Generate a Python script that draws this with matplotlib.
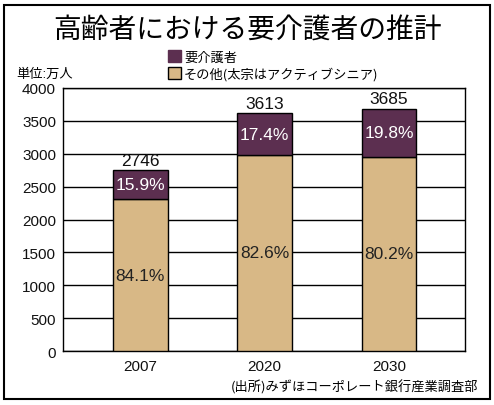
import matplotlib
matplotlib.use("Agg")
import matplotlib.pyplot as plt
from matplotlib.patches import Rectangle, Patch

plt.rcParams['font.family'] = ['Liberation Sans', 'Noto Sans CJK JP', 'DejaVu Sans']

years = ["2007", "2020", "2030"]
other = [2310, 2985, 2955]
care = [436, 628, 730]
totals = ["2746", "3613", "3685"]
care_pct = ["15.9%", "17.4%", "19.8%"]
other_pct = ["84.1%", "82.6%", "80.2%"]
yticks = [0, 500, 1000, 1500, 2000, 2500, 3000, 3500, 4000]

PURPLE = "#5c2f50"
TAN = "#d8b886"

W, H = 494, 406
fig = plt.figure(figsize=(W / 100, H / 100), dpi=100)
fig.patches.append(Rectangle((4 / W, 6 / H), 486 / W, 394 / H, transform=fig.transFigure,
                             fill=False, edgecolor="black", linewidth=1.5))

ax = fig.add_axes([63 / W, 1 - 352 / H, 402 / W, 263 / H])
x = list(range(len(years)))
ax.bar(x, other, width=0.44, color=TAN, edgecolor="black", linewidth=1, zorder=3)
ax.bar(x, care, width=0.44, bottom=other, color=PURPLE, edgecolor="black", linewidth=1, zorder=3)

for i in x:
    top = other[i] + care[i]
    ax.text(i, top + 40, totals[i], ha="center", va="bottom", fontsize=12.5, color="#111111")
    ax.text(i, other[i] + care[i] / 2, care_pct[i], ha="center", va="center", fontsize=12.5, color="white", zorder=4)
    ax.text(i, other[i] / 2, other_pct[i], ha="center", va="center", fontsize=12.5, color="#222222", zorder=4)

ax.set_xlim(-0.62, 2.61)
ax.set_ylim(0, 4000)
ax.set_yticks(yticks)
ax.set_xticks(x)
ax.set_xticklabels(years)
ax.tick_params(axis="both", length=0, labelsize=11, colors="#111111")
ax.tick_params(axis="y", pad=5)
ax.tick_params(axis="x", pad=6)
ax.grid(axis="y", color="black", linewidth=1, zorder=0)
ax.set_axisbelow(True)
for s in ax.spines.values():
    s.set_linewidth(1)
    s.set_color("black")

fig.text(0.5, 1 - 30 / H, "高齢者における要介護者の推計", ha="center", va="center",
         fontsize=20, family=['Noto Sans CJK JP', 'DejaVu Sans'])
fig.text(16 / W, 1 - 75 / H, "単位:万人", ha="left", va="center", fontsize=9.5)
fig.text(478 / W, 1 - 387 / H, "(出所)みずほコーポレート銀行産業調査部", ha="right", va="center",
         fontsize=9.5, family=['Noto Sans CJK JP', 'DejaVu Sans'])

handles = [Patch(facecolor=PURPLE, edgecolor=PURPLE), Patch(facecolor=TAN, edgecolor="black")]
labels = ["要介護者", "その他(太宗はアクティブシニア)"]
fig.legend(handles, labels, loc="upper left", bbox_to_anchor=(163 / W, 1 - 46 / H), frameon=False,
           handlelength=1.0, handleheight=1.0, handletextpad=0.2, labelspacing=0.25,
           prop={'family': ['Noto Sans CJK JP', 'DejaVu Sans'], 'size': 9.5}, borderaxespad=0)

fig.savefig("out.png", dpi=100)
